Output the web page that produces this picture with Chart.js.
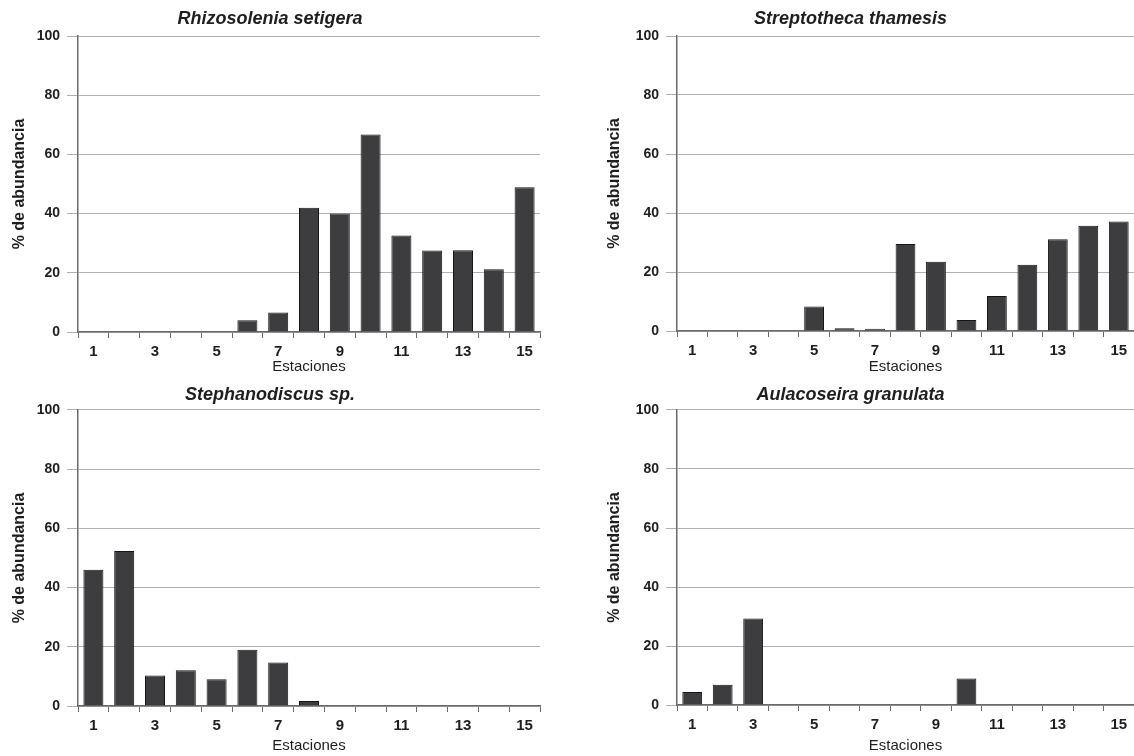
<!DOCTYPE html>
<html>
<head>
<meta charset="utf-8">
<script src="https://cdn.jsdelivr.net/npm/chart.js@4"></script>
<style>
  html, body { margin: 0; padding: 0; background: #fff; }
  #wrap { position: relative; width: 1134px; height: 756px; }
  canvas { position: absolute; }
</style>
</head>
<body>
<div id="wrap">
  <canvas id="c1" width="567" height="378" style="left:0;top:0"></canvas>
  <canvas id="c2" width="567" height="378" style="left:567px;top:0"></canvas>
  <canvas id="c3" width="567" height="378" style="left:0;top:378px"></canvas>
  <canvas id="c4" width="567" height="378" style="left:567px;top:378px"></canvas>
</div>
<script>
  // estaciones 1..15
  const stations = ['1','2','3','4','5','6','7','8','9','10','11','12','13','14','15'];
  const yTicks = [0, 20, 40, 60, 80, 100];

  const rhizosolenia = [0, 0, 0, 0, 0, 4, 6.6, 42, 40, 66.7, 32.6, 27.5, 27.6, 21.2, 48.9];
  const streptotheca = [0, 0, 0, 0, 8.3, 0.9, 0.8, 29.5, 23.5, 3.7, 11.9, 22.5, 31.1, 35.7, 37.1];
  const stephanodiscus = [46, 52.4, 10.3, 12.1, 9, 19, 14.7, 1.7, 0, 0, 0, 0, 0, 0, 0];
  const aulacoseira = [4.4, 6.9, 29.3, 0, 0, 0, 0, 0, 0, 9, 0, 0, 0, 0, 0];

  const FONT = "'Liberation Sans', Arial, sans-serif";
  const ink = '#1e1e1e';

  function makeChart(id, title, values, box) {
    // box: chart area edges inside the canvas + text offsets
    const W = 567, H = 378;
    new Chart(document.getElementById(id), {
      type: 'bar',
      data: {
        labels: stations,
        datasets: [{
          data: values,
          backgroundColor: '#3d3d40',
          borderColor: '#151515',
          borderWidth: 1,
          barPercentage: 0.65,
          categoryPercentage: 1
        }]
      },
      options: {
        responsive: false,
        animation: false,
        events: [],
        layout: { padding: { left: 0, right: W - box.right, top: 0, bottom: 0 } },
        plugins: {
          legend: { display: false },
          tooltip: { enabled: false },
          title: {
            display: true,
            text: title,
            color: ink,
            font: { family: FONT, size: 18, weight: 'bold', style: 'italic', lineHeight: 1.2 },
            padding: { top: box.titleY - 10.8, bottom: box.top - box.titleY - 10.8 }
          }
        },
        scales: {
          x: {
            grid: { display: true, drawOnChartArea: false, drawTicks: true, tickLength: 6, color: '#6a6a6a', offset: true },
            border: { display: true, color: '#6a6a6a', width: 1.5 },
            ticks: {
              autoSkip: false,
              maxRotation: 0,
              padding: 5,
              color: ink,
              font: { family: FONT, size: 15, weight: 'bold' },
              callback: function (v, i) { return i % 2 === 0 ? stations[i] : ''; }
            },
            title: {
              display: true,
              text: 'Estaciones',
              color: ink,
              font: { family: FONT, size: 15, lineHeight: 1.2 },
              padding: { top: 0, bottom: H - box.xTitleY - 9 }
            },
            afterFit: function (s) { s.height = H - box.bottom; }
          },
          y: {
            min: 0,
            max: 100,
            afterBuildTicks: function (s) { s.ticks = yTicks.map(v => ({ value: v })); },
            grid: { color: '#b0b0b0', lineWidth: 1, tickLength: 11, drawTicks: true },
            border: { display: true, color: '#6a6a6a', width: 1.5 },
            ticks: {
              padding: 7,
              color: ink,
              font: { family: FONT, size: 14, weight: 'bold' }
            },
            title: {
              display: true,
              text: '% de abundancia',
              color: ink,
              font: { family: FONT, size: 16, weight: 'bold', lineHeight: 1.2 },
              padding: { top: box.yTitleX - 9.6, bottom: 0 }
            },
            afterFit: function (s) { s.width = box.left; }
          }
        }
      }
    });
  }

  makeChart('c1', 'Rhizosolenia setigera', rhizosolenia,
    { left: 78, right: 540, top: 36, bottom: 332, titleY: 19, xTitleY: 367, yTitleX: 20 });
  makeChart('c2', 'Streptotheca thamesis', streptotheca,
    { left: 110, right: 567, top: 36, bottom: 331, titleY: 19, xTitleY: 367, yTitleX: 48 });
  makeChart('c3', 'Stephanodiscus sp.', stephanodiscus,
    { left: 78, right: 540, top: 32, bottom: 328, titleY: 17, xTitleY: 368, yTitleX: 20 });
  makeChart('c4', 'Aulacoseira granulata', aulacoseira,
    { left: 110, right: 567, top: 32, bottom: 327, titleY: 17, xTitleY: 368, yTitleX: 48 });
</script>
</body>
</html>
